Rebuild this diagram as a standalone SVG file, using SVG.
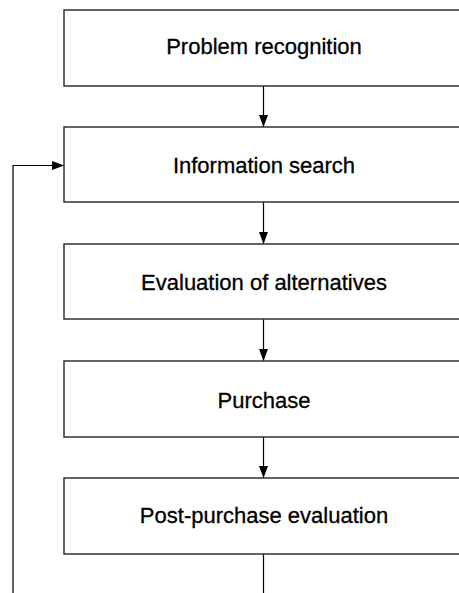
<svg xmlns="http://www.w3.org/2000/svg" width="459" height="593" viewBox="0 0 459 593">
<style>
.box{fill:#fff;stroke:#333;stroke-width:1.5}
.lbl{font-family:"Liberation Sans",Arial,sans-serif;font-size:22px;fill:#000;stroke:#000;stroke-width:0.3;text-anchor:middle}
.con{fill:none;stroke:#000;stroke-width:1.2}
</style>
<defs>
<marker id="ah" markerWidth="12" markerHeight="9" refX="12" refY="4.5" orient="auto" markerUnits="userSpaceOnUse">
<path d="M0,0 L12,4.5 L0,9 Z" fill="#000"/>
</marker>
</defs>
<rect width="459" height="593" fill="#fff"/>
<g id="connectors">
<line class="con" x1="263.5" y1="86" x2="263.5" y2="127" marker-end="url(#ah)"/>
<line class="con" x1="263.5" y1="202" x2="263.5" y2="244" marker-end="url(#ah)"/>
<line class="con" x1="263.5" y1="319" x2="263.5" y2="361" marker-end="url(#ah)"/>
<line class="con" x1="263.5" y1="437" x2="263.5" y2="478" marker-end="url(#ah)"/>
<line class="con" x1="263.5" y1="554" x2="263.5" y2="593"/>
<polyline class="con" points="13,593 13,165.5 64,165.5" marker-end="url(#ah)"/>
</g>
<g id="n1"><rect class="box" x="64" y="10" width="400" height="76"/><text class="lbl" x="264" y="54">Problem recognition</text></g>
<g id="n2"><rect class="box" x="64" y="127" width="400" height="75"/><text class="lbl" x="264" y="173">Information search</text></g>
<g id="n3"><rect class="box" x="64" y="244" width="400" height="75"/><text class="lbl" x="264" y="290">Evaluation of alternatives</text></g>
<g id="n4"><rect class="box" x="64" y="361" width="400" height="76"/><text class="lbl" x="264" y="408">Purchase</text></g>
<g id="n5"><rect class="box" x="64" y="478" width="400" height="76"/><text class="lbl" x="264" y="523">Post-purchase evaluation</text></g>
</svg>
